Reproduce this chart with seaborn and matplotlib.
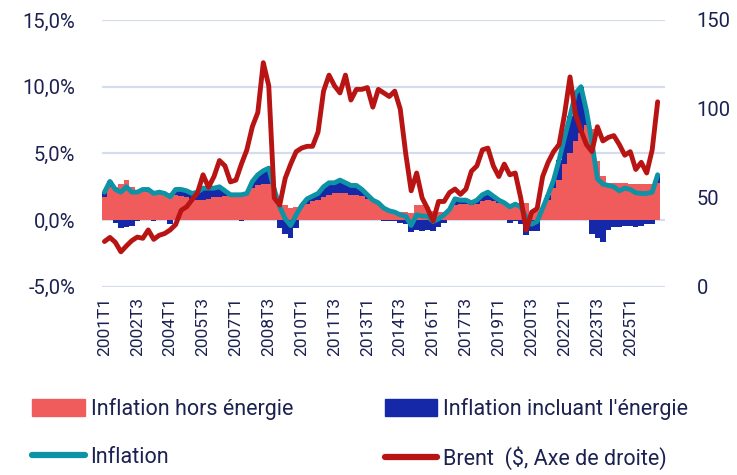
import numpy as np
import pandas as pd
import matplotlib
matplotlib.use("Agg")
import matplotlib.pyplot as plt
import seaborn as sns
from matplotlib.patches import Patch
from matplotlib.lines import Line2D

# quarters 2001T1 .. 2026T2
quarters = [f"{y}T{q}" for y in range(2001, 2027) for q in range(1, 5)][:102]

hors_energie = [
    1.7, 2.5, 2.5, 2.7, 3.0, 2.5, 2.2, 2.2, 2.1, 2.05,
    2.0, 1.95, 2.05, 1.9, 1.8, 1.7, 1.6, 1.5, 1.5, 1.6,
    1.7, 1.7, 1.8, 1.9, 1.9, 1.95, 2.0, 2.4, 2.6, 2.7,
    2.7, 2.3, 1.6, 1.1, 0.9, 1.0, 1.0, 1.2, 1.4, 1.5,
    1.7, 1.9, 2.0, 2.0, 2.0, 1.9, 1.9, 1.8, 1.6, 1.4,
    1.2, 1.0, 0.8, 0.7, 0.6, 0.6, 0.5, 1.1, 1.1, 1.0,
    0.7, 0.6, 0.6, 0.8, 1.1, 1.2, 1.2, 1.1, 1.2, 1.4,
    1.5, 1.4, 1.3, 1.2, 1.2, 1.3, 1.3, 1.3, 0.5, 0.7,
    0.8, 1.5, 2.4, 3.0, 4.2, 5.0, 5.9, 6.5, 7.1, 6.8,
    4.4, 3.3, 2.8, 2.75, 2.75, 2.75, 2.7, 2.7, 2.7, 2.7,
    2.7, 2.8,
]

energie = [
    0.4, 0.4, -0.2, -0.6, -0.5, -0.4, -0.1, 0.1, 0.2, -0.05,
    0.1, 0.05, -0.3, 0.4, 0.5, 0.5, 0.4, 0.6, 0.9, 0.8,
    0.7, 0.8, 0.4, 0.0, 0.0, -0.05, 0.0, 0.5, 0.8, 1.0,
    1.2, 0.0, -0.6, -1.0, -1.3, -0.6, 0.1, 0.4, 0.4, 0.5,
    0.8, 0.9, 0.8, 1.0, 0.8, 0.7, 0.7, 0.5, 0.3, 0.1,
    0.1, -0.1, -0.1, -0.1, -0.2, -0.3, -0.9, -0.7, -0.8, -0.7,
    -0.8, -0.5, -0.2, 0.0, 0.5, 0.3, 0.3, 0.2, 0.3, 0.5,
    0.6, 0.4, 0.2, 0.1, -0.2, -0.1, -0.3, -1.1, -0.8, -0.8,
    0.1, 0.4, 0.6, 1.5, 2.0, 2.8, 3.6, 3.5, 1.1, -1.0,
    -1.3, -1.6, -0.7, -0.5, -0.5, -0.4, -0.4, -0.5, -0.4, -0.3,
    -0.3, 0.6,
]

inflation = [
    2.1, 2.9, 2.3, 2.1, 2.5, 2.1, 2.1, 2.3, 2.3, 2.0,
    2.1, 2.0, 1.75, 2.3, 2.3, 2.2, 2.0, 2.1, 2.4, 2.4,
    2.4, 2.5, 2.2, 1.9, 1.9, 1.9, 2.0, 2.9, 3.4, 3.7,
    3.9, 2.3, 1.0, 0.1, -0.4, 0.4, 1.1, 1.6, 1.8, 2.0,
    2.5, 2.8, 2.8, 3.0, 2.8, 2.6, 2.6, 2.3, 1.9, 1.5,
    1.3, 0.9, 0.7, 0.6, 0.4, 0.3, -0.4, 0.4, 0.3, 0.3,
    -0.1, 0.1, 0.4, 0.8, 1.6, 1.5, 1.5, 1.3, 1.5, 1.9,
    2.1, 1.8, 1.5, 1.3, 1.0, 1.2, 1.0, 0.2, -0.3, -0.1,
    0.9, 1.9, 3.0, 4.5, 6.2, 7.8, 9.5, 10.0, 8.2, 5.8,
    3.1, 2.7, 2.6, 2.5, 2.2, 2.4, 2.3, 2.05, 2.0, 2.0,
    2.1, 3.4,
]

brent = [
    25.5, 27.8, 25, 19.7, 23, 26, 28, 27.3, 32, 26.7,
    29, 30, 32, 35, 43, 45, 49, 53, 63, 56,
    62, 71, 68, 59, 60, 69, 77, 90, 98, 126,
    113, 50, 46, 61, 69, 76, 78, 79, 79, 87,
    110, 119, 113, 109, 119, 105, 111, 111, 112, 101,
    111, 109, 107, 110, 100, 75, 54, 64, 50, 44,
    37, 48, 48, 53, 55, 52, 55, 65, 68, 77,
    78, 68, 62, 69, 63, 64, 50, 32, 42, 44,
    62, 70, 76, 80, 97, 118, 97, 88, 80, 76,
    90, 82, 84, 85, 80, 74, 76, 66, 70, 64,
    77, 104,
]

RED = "#f05c5c"
BLUE = "#1428a8"
TEAL = "#0d93a5"
BRENT = "#b81414"
NAVY = "#1b2150"
GRID = "#d6dcef"

sns.set_style("white")
plt.rcParams["font.family"] = ["Roboto", "DejaVu Sans"]

df = pd.DataFrame({"q": quarters, "core": hors_energie, "energy": energie,
                   "infl": inflation, "brent": brent})
df["i"] = np.arange(len(df))
df["base"] = np.where(df["energy"] > 0, df["core"], 0)

fig, ax = plt.subplots(figsize=(7.37, 4.75), dpi=100)
fig.subplots_adjust(left=0.138, right=0.902, top=0.958, bottom=0.396)

ax.bar(df["i"], df["core"], width=1.0, color=RED, linewidth=0)
ax.bar(df["i"], df["energy"], bottom=df["base"], width=1.0, color=BLUE, linewidth=0)
sns.lineplot(data=df, x="i", y="infl", ax=ax, color=TEAL, lw=3.5)

ax.set_ylim(-5, 15)
ax.set_yticks([-5, 0, 5, 10, 15])
ax.set_yticklabels([f"{v:.1f}%".replace(".", ",") for v in [-5, 0, 5, 10, 15]])
ax.yaxis.grid(True, color=GRID, lw=1.6)
ax.set_axisbelow(True)
ax.set_xlim(-0.5, 102.3)
ax.set_xticks(df["i"][::6])
ax.set_xticklabels(df["q"][::6], rotation=90)
ax.set_xlabel("")
ax.set_ylabel("")
ax.tick_params(axis="y", length=0, pad=19, labelsize=14.5, labelcolor=NAVY)
ax.tick_params(axis="x", length=0, pad=7, labelsize=12.5, labelcolor=NAVY)

ax2 = ax.twinx()
sns.lineplot(data=df, x="i", y="brent", ax=ax2, color=BRENT, lw=3.5)
ax2.set_ylim(0, 150)
ax2.set_yticks([0, 50, 100, 150])
ax2.set_ylabel("")
ax2.tick_params(axis="y", length=0, pad=23, labelsize=14.5, labelcolor=NAVY)
ax2.set_xlim(-0.5, 102.3)

for a in (ax, ax2):
    for s in a.spines.values():
        s.set_visible(False)

leg_kw = dict(loc="upper left", frameon=False, fontsize=15.5, handlelength=2.45,
              handleheight=0.85, handletextpad=0.25, labelspacing=1.25,
              borderaxespad=0, borderpad=0)
left_leg = fig.legend(
    [Patch(color=RED), Line2D([0], [0], color=TEAL, lw=4.5, solid_capstyle="round")],
    ["Inflation hors énergie", "Inflation"],
    bbox_to_anchor=(0.044, 0.163), **leg_kw)
right_leg = fig.legend(
    [Patch(color=BLUE), Line2D([0], [0], color=BRENT, lw=4.5, solid_capstyle="round")],
    ["Inflation incluant l'énergie", "Brent  ($, Axe de droite)"],
    bbox_to_anchor=(0.522, 0.163), **leg_kw)
for lg in (left_leg, right_leg):
    for t in lg.get_texts():
        t.set_color(NAVY)

fig.savefig("out.png", dpi=100)
